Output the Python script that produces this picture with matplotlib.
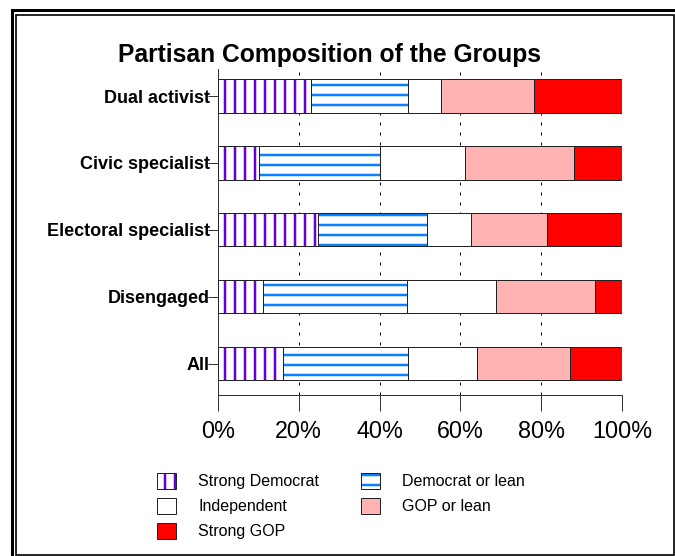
import matplotlib
matplotlib.use("Agg")
import matplotlib.pyplot as plt
from matplotlib.patches import Patch, Rectangle

# Dati (percentuali)
groups = ["Dual activist", "Civic specialist", "Electoral specialist", "Disengaged", "All"]
strong_dem = [23.0, 10.1, 24.8, 11.2, 16.2]
dem_lean = [24.1, 30.0, 26.9, 35.5, 30.9]
independent = [8.0, 21.0, 10.8, 22.1, 17.1]
gop_lean = [23.0, 27.0, 18.9, 24.4, 22.9]
strong_gop = [21.9, 11.9, 18.6, 6.8, 12.9]
xticks = [0, 20, 40, 60, 80, 100]
xtick_labels = ["0%", "20%", "40%", "60%", "80%", "100%"]

series = [
    ("Strong Democrat", strong_dem, "white", "#6600CC", "|"),
    ("Democrat or lean", dem_lean, "white", "#0A80FF", "-"),
    ("Independent", independent, "white", None, None),
    ("GOP or lean", gop_lean, "#FFB3B3", None, None),
    ("Strong GOP", strong_gop, "#FF0000", None, None),
]

W, H, DPI = 675, 556, 60
plt.rcParams["font.family"] = ["Liberation Sans", "DejaVu Sans"]
plt.rcParams["hatch.linewidth"] = 3.0

fig = plt.figure(figsize=(W / DPI, H / DPI), dpi=DPI)
ax = fig.add_axes([218 / W, 1 - 395 / H, (622 - 218) / W, (395 - 69) / H])

edge = "#222222"
ypos = list(range(len(groups)))
left = [0.0] * len(groups)
handles = {}
for name, vals, face, hcol, hatch in series:
    if hatch:
        ax.barh(ypos, vals, left=left, height=0.5, color=face, edgecolor=hcol,
                hatch=hatch, linewidth=0, zorder=2)
        h1 = Patch(facecolor=face, edgecolor=hcol, hatch=hatch, linewidth=0)
        h2 = Patch(facecolor="none", edgecolor=edge, linewidth=1.2)
        handles[name] = (h1, h2)
    else:
        handles[name] = Patch(facecolor=face, edgecolor=edge, linewidth=1.2)
    ax.barh(ypos, vals, left=left, height=0.5, color=face if not hatch else "none",
            edgecolor=edge, linewidth=1.2, zorder=3)
    left = [a + b for a, b in zip(left, vals)]

ax.set_xlim(0, 100)
ax.set_ylim(4.471, -0.404)
ax.set_yticks(ypos)
ax.set_yticklabels(groups, fontsize=21.6, fontweight="bold")
ax.set_xticks(xticks)
ax.set_xticklabels(xtick_labels, fontsize=28)
ax.tick_params(axis="y", length=12, width=1.2, pad=-2.4, colors="#333333", labelcolor="black")
ax.tick_params(axis="x", length=19, width=1.2, pad=11, colors="#333333", labelcolor="black")
ax.grid(axis="x", color="black", linestyle=(0, (3, 7)), linewidth=1.2, zorder=1)
ax.set_axisbelow(True)
for s in ["top", "right"]:
    ax.spines[s].set_visible(False)
for s in ["left", "bottom"]:
    ax.spines[s].set_color("#333333")
    ax.spines[s].set_linewidth(1.2)

fig.text(329 / W, 1 - 61.7 / H, "Partisan Composition of the Groups",
         ha="center", va="baseline", fontsize=29.5, fontweight="bold")

order = ["Strong Democrat", "Independent", "Strong GOP", "Democrat or lean", "GOP or lean"]
fig.legend([handles[n] for n in order], order, ncol=2, loc="upper left",
           bbox_to_anchor=(149 / W, 1 - 465 / H), frameon=False, borderpad=0,
           fontsize=19.2, handlelength=19 / 16, handleheight=18 / 16,
           handletextpad=22 / 16, columnspacing=2.6, labelspacing=0.55)

# Doppia cornice attorno alla figura
fig.add_artist(Rectangle((11.5, -20), 720, 546.5 + 20, transform=None,
                         fill=False, edgecolor="black", linewidth=3.6))
fig.add_artist(Rectangle((15.8, 1.2), 673.8 - 15.8, 541 - 1.2, transform=None,
                         fill=False, edgecolor="black", linewidth=2.0))

fig.savefig("out.png", dpi=DPI)
